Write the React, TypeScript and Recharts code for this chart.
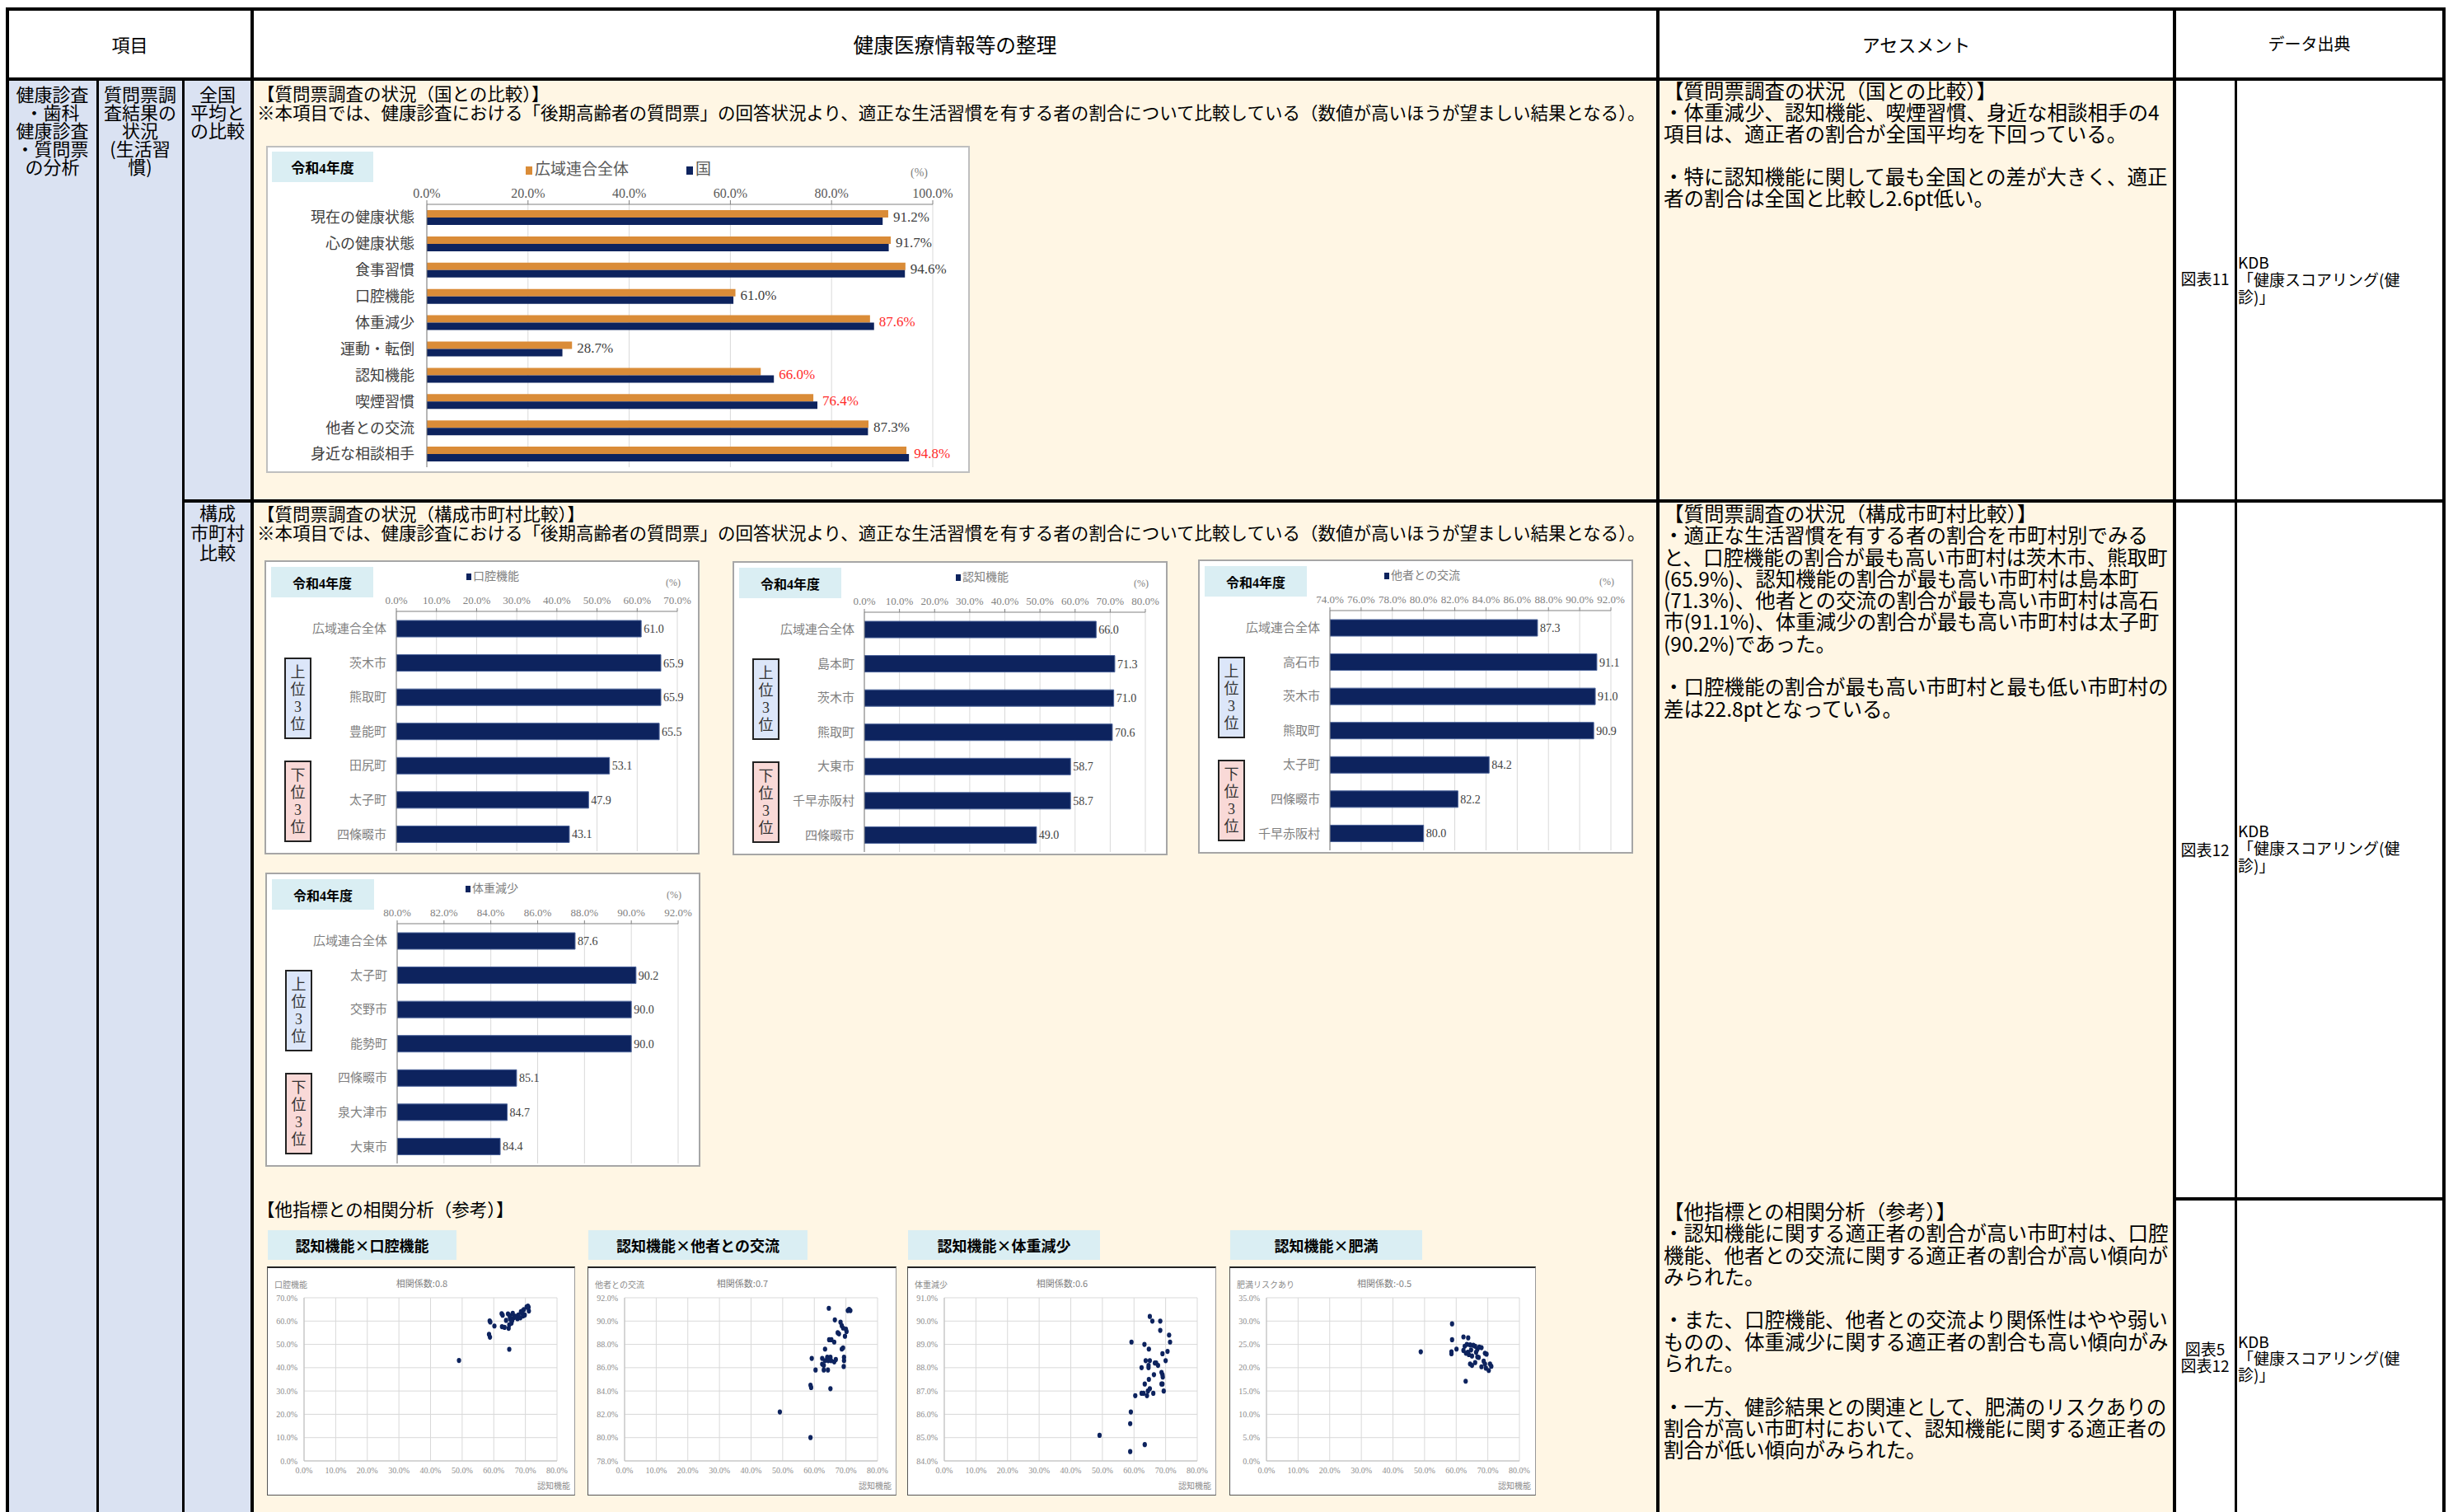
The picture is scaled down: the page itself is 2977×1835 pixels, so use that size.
import React from "react";
import {
  BarChart,
  Bar,
  XAxis,
  YAxis,
  CartesianGrid,
  LabelList,
  ScatterChart,
  Scatter,
} from "recharts";

const FONT = "'Noto Sans CJK JP', 'Noto Sans', sans-serif";
const SERIF = "'Liberation Serif', 'Noto Sans CJK JP', serif";
const BLUE = "#DAE2F2";
const CREAM = "#FFF6E4";
const NAVY = "#0D235E";
const ORANGE = "#DA8C38";
const LABEL_BG = "#DAEEF3";

// 国との比較
const nationalItems = [
  "現在の健康状態",
  "心の健康状態",
  "食事習慣",
  "口腔機能",
  "体重減少",
  "運動・転倒",
  "認知機能",
  "喫煙習慣",
  "他者との交流",
  "身近な相談相手",
];
const unionRates = [91.2, 91.7, 94.6, 61.0, 87.6, 28.7, 66.0, 76.4, 87.3, 94.8];
const nationRates = [90.1, 91.3, 94.5, 60.6, 88.4, 26.8, 68.6, 77.2, 87.2, 95.3];
const nationalTicks = [0, 20, 40, 60, 80, 100];

// 構成市町村比較
const oralNames = ["広域連合全体", "茨木市", "熊取町", "豊能町", "田尻町", "太子町", "四條畷市"];
const oralRates = [61.0, 65.9, 65.9, 65.5, 53.1, 47.9, 43.1];
const oralTicks = [0, 10, 20, 30, 40, 50, 60, 70];

const cognitiveNames = ["広域連合全体", "島本町", "茨木市", "熊取町", "大東市", "千早赤阪村", "四條畷市"];
const cognitiveRates = [66.0, 71.3, 71.0, 70.6, 58.7, 58.7, 49.0];
const cognitiveTicks = [0, 10, 20, 30, 40, 50, 60, 70, 80];

const socialNames = ["広域連合全体", "高石市", "茨木市", "熊取町", "太子町", "四條畷市", "千早赤阪村"];
const socialRates = [87.3, 91.1, 91.0, 90.9, 84.2, 82.2, 80.0];
const socialTicks = [74, 76, 78, 80, 82, 84, 86, 88, 90, 92];

const weightNames = ["広域連合全体", "太子町", "交野市", "能勢町", "四條畷市", "泉大津市", "大東市"];
const weightRates = [87.6, 90.2, 90.0, 90.0, 85.1, 84.7, 84.4];
const weightTicks = [80, 82, 84, 86, 88, 90, 92];

// 相関分析 [認知機能, 指標]
const cogOral = [
  [49.0, 43.1], [58.7, 60.1], [58.9, 59.6], [58.5, 54.3], [58.8, 53.1], [60.2, 57.9],
  [62.5, 63.2], [62.8, 62.5], [62.6, 57.6], [63.4, 57.3], [64.5, 63.1], [65.1, 62.4],
  [64.7, 56.9], [64.9, 47.9], [65.6, 59.1], [65.8, 60.2], [66.3, 61.4], [66.0, 63.3],
  [64.9, 58.4], [65.3, 60.6], [67.1, 62.0], [67.8, 62.6], [68.4, 61.4], [67.5, 61.0],
  [69.1, 64.3], [69.5, 64.9], [69.8, 62.6], [69.3, 62.2], [70.4, 66.1], [70.8, 66.4],
  [71.0, 65.9], [71.1, 64.3], [70.6, 65.9], [68.9, 63.5], [66.6, 62.1], [63.9, 60.3],
  [65.1, 61.5], [67.0, 61.7], [68.6, 64.0],
];
const cogSocial = [
  [64.6, 91.1], [71.0, 91.0], [71.4, 90.9], [70.6, 90.9], [66.5, 90.1], [68.3, 89.9],
  [68.7, 89.6], [69.1, 89.4], [70.0, 89.3], [70.2, 89.1], [67.4, 89.0], [67.8, 88.9],
  [69.7, 88.7], [64.7, 88.4], [65.4, 88.4], [66.3, 88.2], [63.4, 87.6], [68.7, 87.6],
  [69.1, 87.7], [59.2, 86.8], [62.5, 86.8], [63.4, 86.6], [64.1, 86.9], [65.1, 86.9],
  [69.4, 86.9], [69.4, 86.6], [62.5, 86.3], [63.0, 86.2], [64.4, 86.6], [65.3, 86.6],
  [66.3, 86.5], [66.8, 86.7], [69.3, 86.1], [60.4, 85.8], [63.0, 85.8], [64.3, 85.8],
  [58.8, 84.5], [59.0, 84.3], [65.1, 84.2], [49.1, 82.2], [58.8, 80.0],
];
const cogWeight = [
  [65.0, 90.2], [65.8, 90.0], [68.3, 90.0], [68.3, 89.6], [71.1, 89.4], [71.4, 89.1],
  [59.2, 89.1], [63.3, 89.0], [64.7, 88.8], [70.6, 88.7], [69.0, 88.6], [63.7, 88.3],
  [65.0, 88.3], [66.6, 88.2], [67.0, 88.2], [67.6, 88.1], [70.0, 88.3], [62.4, 88.0],
  [64.6, 88.1], [64.6, 88.0], [68.7, 87.8], [69.0, 87.7], [69.1, 87.6], [66.3, 87.7],
  [64.7, 87.5], [63.4, 87.3], [68.7, 87.3], [69.0, 87.3], [65.0, 87.1], [64.4, 87.0],
  [69.4, 87.0], [62.4, 86.9], [63.0, 86.9], [66.1, 86.9], [60.4, 86.8], [64.1, 86.8],
  [59.0, 86.1], [58.8, 85.6], [49.1, 85.1], [63.4, 84.7], [58.8, 84.4],
];
const cogObesity = [
  [58.7, 29.4], [58.7, 26.0], [62.3, 26.6], [63.8, 26.4], [58.5, 23.4], [58.5, 23.0],
  [48.8, 23.4], [60.1, 24.0], [62.7, 24.6], [63.4, 25.0], [64.4, 24.9], [65.4, 24.8],
  [66.0, 24.6], [62.3, 23.7], [63.7, 23.3], [64.7, 23.8], [63.1, 23.1], [64.0, 22.8],
  [66.3, 23.3], [66.7, 23.9], [67.3, 24.4], [68.0, 24.3], [65.0, 22.5], [66.7, 22.3],
  [69.1, 23.1], [69.6, 22.9], [67.1, 22.2], [64.4, 20.8], [65.0, 20.5], [66.0, 21.1],
  [68.7, 21.4], [69.1, 20.8], [68.0, 20.2], [69.4, 19.9], [70.7, 20.8], [71.1, 20.3],
  [70.3, 19.4], [63.0, 17.1],
];
const scatterXTicks = [0, 10, 20, 30, 40, 50, 60, 70, 80];
const oralYTicks = [0, 10, 20, 30, 40, 50, 60, 70];
const socialYTicks = [78, 80, 82, 84, 86, 88, 90, 92];
const weightYTicks = [84, 85, 86, 87, 88, 89, 90, 91];
const obesityYTicks = [0, 5, 10, 15, 20, 25, 30, 35];

const pct = (v: number) => `${v.toFixed(1)}%`;

function Fill({ x, y, w, h, bg }: any) {
  return <div style={{ position: "absolute", left: x, top: y, width: w, height: h, background: bg }} />;
}

function HLine({ x1, x2, y, t = 3 }: any) {
  return <div style={{ position: "absolute", left: x1, top: y - t / 2, width: x2 - x1, height: t, background: "#000" }} />;
}

function VLine({ x, y1, y2, t = 3 }: any) {
  return <div style={{ position: "absolute", left: x - t / 2, top: y1, width: t, height: y2 - y1, background: "#000" }} />;
}

// one text node per block, lines kept with white-space: pre
function TextBlock({ x, y, w, lines, size, lh, align = "left", weight = 400, family = FONT, color = "#000" }: any) {
  return (
    <div
      style={{
        position: "absolute",
        left: x,
        top: y,
        width: w,
        fontSize: size,
        lineHeight: `${lh}px`,
        textAlign: align,
        fontWeight: weight,
        fontFamily: family,
        color,
        whiteSpace: "pre",
      }}
    >
      {lines.join("\n")}
    </div>
  );
}

function YearTag({ x, y, w = 124, h = 37, size = 17 }: any) {
  return (
    <div
      style={{
        position: "absolute", left: x, top: y, width: w, height: h, background: LABEL_BG,
        display: "flex", alignItems: "center", justifyContent: "center",
        fontSize: size, fontWeight: 700, fontFamily: SERIF,
      }}
    >
      令和4年度
    </div>
  );
}

function RankTag({ x, y, up }: any) {
  return (
    <div
      style={{
        position: "absolute", left: x, top: y, width: 33, height: 99, boxSizing: "border-box",
        border: "2px solid #222", background: up ? "#DCE6F9" : "#F9D9D7",
        display: "flex", alignItems: "center", justifyContent: "center",
        fontSize: 18, lineHeight: "21px", fontFamily: SERIF, color: "#333",
        whiteSpace: "pre", textAlign: "center",
      }}
    >
      {up ? "上\n位\n3\n位" : "下\n位\n3\n位"}
    </div>
  );
}

function UnionLabel(props: any) {
  const i = typeof props.index === "number" ? props.index : unionRates.indexOf(Number(props.value));
  const u = unionRates[i];
  const n = nationRates[i];
  const x = Number(props.x);
  const w = Number(props.width);
  const end = x + (w * Math.max(u, n)) / u;
  return (
    <text
      x={end + 6}
      y={Number(props.y) + Number(props.height) - 1}
      fill={u < n ? "#FF2B2B" : "#404040"}
      fontSize={17}
      fontFamily={SERIF}
      dominantBaseline="central"
    >
      {pct(u)}
    </text>
  );
}

function NationalChart() {
  const data = nationalItems.map((name, i) => ({ name, union: unionRates[i], nation: nationRates[i] }));
  const W = 854;
  const H = 397;
  return (
    <div style={{ position: "absolute", left: 323, top: 177, width: W, height: H, background: "#fff", boxShadow: "inset 0 0 0 2px #BFBFBF" }}>
      <BarChart
        width={W}
        height={H}
        data={data}
        layout="vertical"
        barSize={9}
        barGap={0}
        margin={{ top: 0, right: W - 809, bottom: H - 390, left: 0 }}
      >
        <CartesianGrid horizontal={false} stroke="#D9D9D9" />
        <XAxis
          type="number"
          orientation="top"
          domain={[0, 100]}
          ticks={nationalTicks}
          interval={0}
          height={71}
          tickFormatter={pct}
          tick={{ fill: "#595959", fontSize: 16, fontFamily: SERIF }}
          axisLine={{ stroke: "#808080" }}
          tickLine={{ stroke: "#808080" }}
          tickSize={5}
          tickMargin={3}
        />
        <YAxis
          type="category"
          dataKey="name"
          width={195}
          interval={0}
          tick={{ fill: "#404040", fontSize: 18, fontFamily: SERIF }}
          axisLine={{ stroke: "#808080" }}
          tickLine={false}
          tickMargin={9}
        />
        <Bar dataKey="union" fill={ORANGE} isAnimationActive={false} label={UnionLabel} />
        <Bar dataKey="nation" fill={NAVY} isAnimationActive={false} />
      </BarChart>
      <YearTag x={7} y={7} w={123} h={37} />
      <div style={{ position: "absolute", left: 315, top: 13, fontSize: 19, fontFamily: SERIF, color: "#595959", whiteSpace: "nowrap" }}>
        <span style={{ display: "inline-block", width: 8, height: 10, background: ORANGE, marginRight: 3 }} />
        広域連合全体
        <span style={{ display: "inline-block", width: 8, height: 10, background: NAVY, marginLeft: 70, marginRight: 3 }} />
        国
      </div>
      <div style={{ position: "absolute", left: 782, top: 25, fontSize: 14, fontFamily: SERIF, color: "#808080" }}>(%)</div>
    </div>
  );
}

function RankChart({ x, y, names, values, ticks, legend, legendCenter }: any) {
  const data = names.map((name: string, i: number) => ({ name, value: values[i] }));
  const W = 528;
  const H = 357;
  return (
    <div style={{ position: "absolute", left: x, top: y, width: W, height: H, background: "#fff", boxShadow: "inset 0 0 0 2px #A6A6A6" }}>
      <BarChart
        width={W}
        height={H}
        data={data}
        layout="vertical"
        barSize={20}
        margin={{ top: 0, right: W - 501, bottom: H - 353, left: 0 }}
      >
        <CartesianGrid horizontal={false} stroke="#D9D9D9" />
        <XAxis
          type="number"
          orientation="top"
          domain={[ticks[0], ticks[ticks.length - 1]]}
          ticks={ticks}
          interval={0}
          height={62}
          tickFormatter={pct}
          tick={{ fill: "#7F7F7F", fontSize: 13, fontFamily: SERIF }}
          axisLine={{ stroke: "#808080" }}
          tickLine={{ stroke: "#808080" }}
          tickSize={4}
          tickMargin={5}
          allowDataOverflow
        />
        <YAxis
          type="category"
          dataKey="name"
          width={160}
          interval={0}
          tick={{ fill: "#7F7F7F", fontSize: 15, fontFamily: SERIF }}
          axisLine={{ stroke: "#808080" }}
          tickLine={false}
          tickMargin={6}
        />
        <Bar dataKey="value" fill={NAVY} stroke="#4A6299" strokeWidth={1} isAnimationActive={false}>
          <LabelList
            dataKey="value"
            position="right"
            offset={3}
            formatter={(v: any) => Number(v).toFixed(1)}
            fill="#404040"
            fontSize={14}
            fontFamily={SERIF}
          />
        </Bar>
      </BarChart>
      <YearTag x={8} y={8} w={124} h={37} size={16} />
      <div
        style={{
          position: "absolute", left: legendCenter - 60, top: 8, width: 120, textAlign: "center",
          fontSize: 14, fontFamily: SERIF, color: "#7F7F7F", whiteSpace: "nowrap",
        }}
      >
        <span style={{ display: "inline-block", width: 6, height: 8, background: NAVY, marginRight: 2 }} />
        {legend}
      </div>
      <div style={{ position: "absolute", left: 487, top: 20, fontSize: 12, fontFamily: SERIF, color: "#808080" }}>(%)</div>
      <RankTag x={24} y={118} up />
      <RankTag x={24} y={243} up={false} />
    </div>
  );
}

function ScatterPanel({ x, y, w, title, tagW, pts, yTicks, yTitle, coef }: any) {
  const data = pts.map((p: number[]) => ({ x: p[0], y: p[1] }));
  const W = w;
  const H = 278;
  return (
    <>
      <div
        style={{
          position: "absolute", left: x + 1, top: y - 44, width: tagW, height: 36, background: LABEL_BG,
          display: "flex", alignItems: "center", justifyContent: "center",
          fontSize: 18, fontWeight: 700, fontFamily: FONT, whiteSpace: "nowrap",
        }}
      >
        {title}
      </div>
      <div
        style={{
          position: "absolute", left: x, top: y, width: W, height: H, background: "#fff",
          boxSizing: "border-box", borderTop: "2px solid #222", borderLeft: "1px solid #555",
          borderRight: "1px solid #999", borderBottom: "1px solid #555",
        }}
      >
        <div style={{ position: "absolute", left: -1, top: -2 }}>
          <ScatterChart width={W} height={H} margin={{ top: 38, right: W - 352, bottom: H - 236 - 20, left: 0 }}>
            <CartesianGrid stroke="#D9D9D9" />
            <XAxis
              type="number"
              dataKey="x"
              domain={[0, 80]}
              ticks={scatterXTicks}
              interval={0}
              height={20}
              tickFormatter={pct}
              tick={{ fill: "#8C8C8C", fontSize: 10, fontFamily: SERIF }}
              axisLine={{ stroke: "#BFBFBF" }}
              tickLine={false}
            />
            <YAxis
              type="number"
              dataKey="y"
              domain={[yTicks[0], yTicks[yTicks.length - 1]]}
              ticks={yTicks}
              interval={0}
              width={45}
              tickFormatter={pct}
              tick={{ fill: "#8C8C8C", fontSize: 10, fontFamily: SERIF }}
              axisLine={{ stroke: "#BFBFBF" }}
              tickLine={false}
              allowDataOverflow
            />
            <Scatter
              data={data}
              fill={NAVY}
              isAnimationActive={false}
              shape={(p: any) => <ellipse cx={p.cx} cy={p.cy} rx={2.6} ry={3.1} fill={NAVY} />}
            />
          </ScatterChart>
        </div>
        <div style={{ position: "absolute", left: 8, top: 12, fontSize: 10, fontFamily: FONT, color: "#8C8C8C", whiteSpace: "nowrap" }}>{yTitle}</div>
        <div style={{ position: "absolute", left: 137, top: 10, width: 100, textAlign: "center", fontSize: 11, fontFamily: FONT, color: "#7F7F7F" }}>
          相関係数:{coef}
        </div>
        <div style={{ position: "absolute", right: 5, top: 256, fontSize: 10, fontFamily: FONT, color: "#8C8C8C" }}>認知機能</div>
      </div>
    </>
  );
}

const note =
  "※本項目では、健康診査における「後期高齢者の質問票」の回答状況より、適正な生活習慣を有する者の割合について比較している（数値が高いほうが望ましい結果となる）。";
const kdbSource = ["KDB", "「健康スコアリング(健", "診)」"];

export default function App() {
  return (
    <div
      style={{
        position: "absolute", left: 0, top: 0, width: 2977, height: 1835, background: "#fff",
        overflow: "hidden", fontFamily: FONT, color: "#000",
      }}
    >
      <Fill x={9} y={95} w={297} h={1740} bg={BLUE} />
      <Fill x={306} y={95} w={2333} h={1740} bg={CREAM} />

      <HLine x1={7} x2={2968} y={11} t={4} />
      <HLine x1={7} x2={2968} y={96} t={4} />
      <HLine x1={222} x2={2968} y={608} t={4} />
      <HLine x1={2639} x2={2968} y={1455} t={4} />
      <VLine x={9} y1={9} y2={1835} t={4} />
      <VLine x={118} y1={96} y2={1835} t={3} />
      <VLine x={222} y1={96} y2={1835} t={3} />
      <VLine x={306} y1={9} y2={1835} t={4} />
      <VLine x={2012} y1={9} y2={1835} t={4} />
      <VLine x={2639} y1={9} y2={1835} t={4} />
      <VLine x={2713} y1={96} y2={1835} t={3} />
      <VLine x={2966} y1={9} y2={1835} t={4} />

      {/* header */}
      <TextBlock x={9} y={40} w={297} lines={["項目"]} size={22} lh={26} align="center" />
      <TextBlock x={306} y={40} w={1706} lines={["健康医療情報等の整理"]} size={24.7} lh={26} align="center" />
      <TextBlock x={2012} y={40} w={627} lines={["アセスメント"]} size={22} lh={26} align="center" />
      <TextBlock x={2639} y={40} w={327} lines={["データ出典"]} size={20} lh={26} align="center" />

      {/* left columns */}
      <TextBlock x={9} y={102} w={109} lines={["健康診査", "・歯科", "健康診査", "・質問票", "の分析"]} size={22} lh={22} align="center" />
      <TextBlock x={118} y={102} w={104} lines={["質問票調", "査結果の", "状況", "(生活習", "慣)"]} size={22} lh={22} align="center" />
      <TextBlock x={222} y={102} w={84} lines={["全国", "平均と", "の比較"]} size={22} lh={22} align="center" />
      <TextBlock x={222} y={609} w={84} lines={["構成", "市町村", "比較"]} size={22} lh={24} align="center" />

      {/* main column */}
      <TextBlock x={312} y={101} lines={["【質問票調査の状況（国との比較）】", note]} size={21.5} lh={23} />
      <TextBlock x={312} y={611} lines={["【質問票調査の状況（構成市町村比較）】", note]} size={21.5} lh={23} />
      <TextBlock x={312} y={1455} lines={["【他指標との相関分析（参考）】"]} size={21.5} lh={23} />

      <NationalChart />
      <RankChart x={321} y={680} names={oralNames} values={oralRates} ticks={oralTicks} legend="口腔機能" legendCenter={277} />
      <RankChart x={889} y={681} names={cognitiveNames} values={cognitiveRates} ticks={cognitiveTicks} legend="認知機能" legendCenter={303} />
      <RankChart x={1454} y={679} names={socialNames} values={socialRates} ticks={socialTicks} legend="他者との交流" legendCenter={272} />
      <RankChart x={322} y={1059} names={weightNames} values={weightRates} ticks={weightTicks} legend="体重減少" legendCenter={275} />

      <ScatterPanel x={324} y={1537} w={374} tagW={229} title="認知機能×口腔機能" pts={cogOral} yTicks={oralYTicks} yTitle="口腔機能" coef="0.8" />
      <ScatterPanel x={713} y={1537} w={375} tagW={266} title="認知機能×他者との交流" pts={cogSocial} yTicks={socialYTicks} yTitle="他者との交流" coef="0.7" />
      <ScatterPanel x={1101} y={1537} w={375} tagW={233} title="認知機能×体重減少" pts={cogWeight} yTicks={weightYTicks} yTitle="体重減少" coef="0.6" />
      <ScatterPanel x={1492} y={1537} w={372} tagW={233} title="認知機能×肥満" pts={cogObesity} yTicks={obesityYTicks} yTitle="肥満リスクあり" coef="-0.5" />

      {/* assessment */}
      <TextBlock
        x={2019}
        y={97}
        size={24.5}
        lh={26}
        lines={[
          "【質問票調査の状況（国との比較）】",
          "・体重減少、認知機能、喫煙習慣、身近な相談相手の4",
          "項目は、適正者の割合が全国平均を下回っている。",
          "",
          "・特に認知機能に関して最も全国との差が大きく、適正",
          "者の割合は全国と比較し2.6pt低い。",
        ]}
      />
      <TextBlock
        x={2019}
        y={610}
        size={24.5}
        lh={26.3}
        lines={[
          "【質問票調査の状況（構成市町村比較）】",
          "・適正な生活習慣を有する者の割合を市町村別でみる",
          "と、口腔機能の割合が最も高い市町村は茨木市、熊取町",
          "(65.9%)、認知機能の割合が最も高い市町村は島本町",
          "(71.3%)、他者との交流の割合が最も高い市町村は高石",
          "市(91.1%)、体重減少の割合が最も高い市町村は太子町",
          "(90.2%)であった。",
          "",
          "・口腔機能の割合が最も高い市町村と最も低い市町村の",
          "差は22.8ptとなっている。",
        ]}
      />
      <TextBlock
        x={2019}
        y={1457}
        size={24.5}
        lh={26.3}
        lines={[
          "【他指標との相関分析（参考）】",
          "・認知機能に関する適正者の割合が高い市町村は、口腔",
          "機能、他者との交流に関する適正者の割合が高い傾向が",
          "みられた。",
          "",
          "・また、口腔機能、他者との交流より関係性はやや弱い",
          "ものの、体重減少に関する適正者の割合も高い傾向がみ",
          "られた。",
          "",
          "・一方、健診結果との関連として、肥満のリスクありの",
          "割合が高い市町村において、認知機能に関する適正者の",
          "割合が低い傾向がみられた。",
        ]}
      />

      {/* data source */}
      <TextBlock x={2639} y={327} w={74} lines={["図表11"]} size={19} lh={22} align="center" />
      <TextBlock x={2716} y={307} lines={kdbSource} size={19} lh={21} />
      <TextBlock x={2639} y={1020} w={74} lines={["図表12"]} size={19} lh={22} align="center" />
      <TextBlock x={2716} y={997} lines={kdbSource} size={19} lh={21} />
      <TextBlock x={2639} y={1627} w={74} lines={["図表5", "図表12"]} size={19} lh={20} align="center" />
      <TextBlock x={2716} y={1618} lines={kdbSource} size={19} lh={20} />
    </div>
  );
}
